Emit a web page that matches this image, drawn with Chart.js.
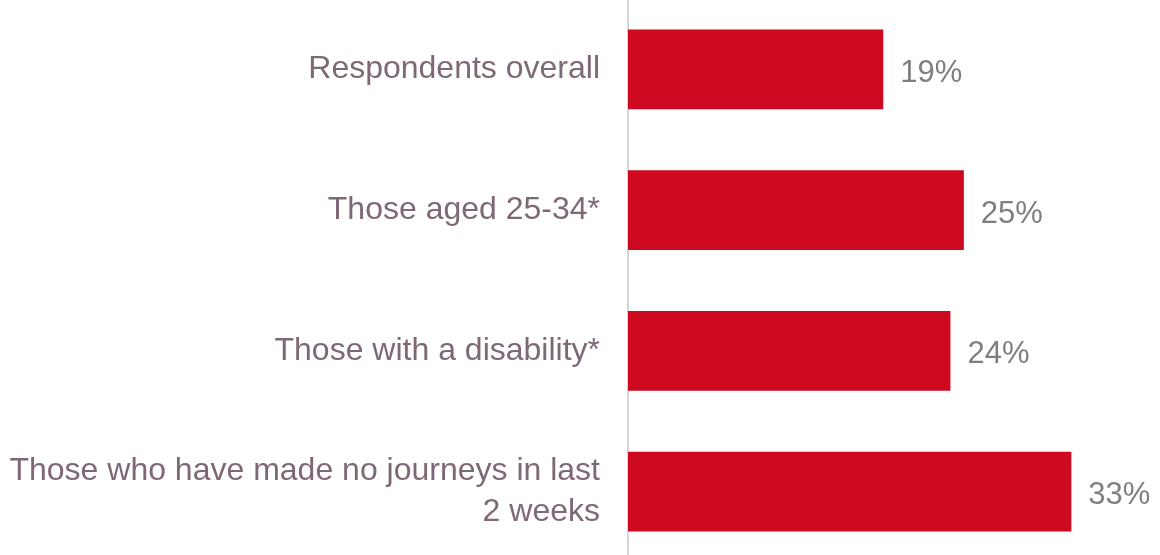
<!DOCTYPE html>
<html>
<head>
<meta charset="utf-8">
<script src="https://cdn.jsdelivr.net/npm/chart.js@4/dist/chart.umd.min.js"></script>
<style>
  html, body { margin: 0; padding: 0; background: #fff; overflow: hidden; }
  #wrap { position: absolute; left: 0; top: -1px; width: 1160px; height: 563px; }
</style>
</head>
<body>
<div id="wrap"><canvas id="chart" width="1160" height="563"></canvas></div>
<script>
// data
const categories = [
    "Respondents overall",
    "Those aged 25-34*",
    "Those with a disability*",
    ["Those who have made no journeys in last", "2 weeks"]
];
const percentValues = [19, 25, 24, 33];

// draw "NN%" just to the right of each bar
const valueLabels = {
    id: "valueLabels",
    afterDatasetsDraw(chart) {
        const ctx = chart.ctx;
        const meta = chart.getDatasetMeta(0);
        ctx.save();
        ctx.font = "31px 'Liberation Sans', Arial, sans-serif";
        ctx.fillStyle = "#7f7f7f";
        ctx.textAlign = "left";
        ctx.textBaseline = "middle";
        meta.data.forEach((bar, i) => {
            ctx.fillText(percentValues[i] + "%", bar.x + 17, bar.y + 4);
        });
        ctx.restore();
    }
};

const ctx = document.getElementById("chart").getContext("2d");
const chart = new Chart(ctx, {
    type: "bar",
    data: {
        labels: categories,
        datasets: [{
            data: percentValues,
            backgroundColor: "#cd0a20",
            borderWidth: 0,
            categoryPercentage: 1,
            barPercentage: 0.568
        }]
    },
    options: {
        indexAxis: "y",
        responsive: false,
        animation: false,
        devicePixelRatio: 1,
        layout: { padding: 0 },
        plugins: {
            legend: { display: false },
            tooltip: { enabled: false }
        },
        scales: {
            x: {
                display: false,
                min: 0,
                max: 39.6
            },
            y: {
                afterFit: (scale) => {
                    // fixed label column, no extra top/bottom room
                    scale.width = 628;
                    scale.paddingTop = 0;
                    scale.paddingBottom = 0;
                },
                grid: { display: true, color: "transparent", drawTicks: false },
                border: { display: true, color: "#d9d2d6", width: 2 },
                ticks: {
                    color: "#7e6878",
                    padding: 28,
                    font: { family: "'Liberation Sans', Arial, sans-serif", size: 32, lineHeight: 1.28 }
                }
            }
        }
    },
    plugins: [valueLabels]
});
</script>
</body>
</html>
